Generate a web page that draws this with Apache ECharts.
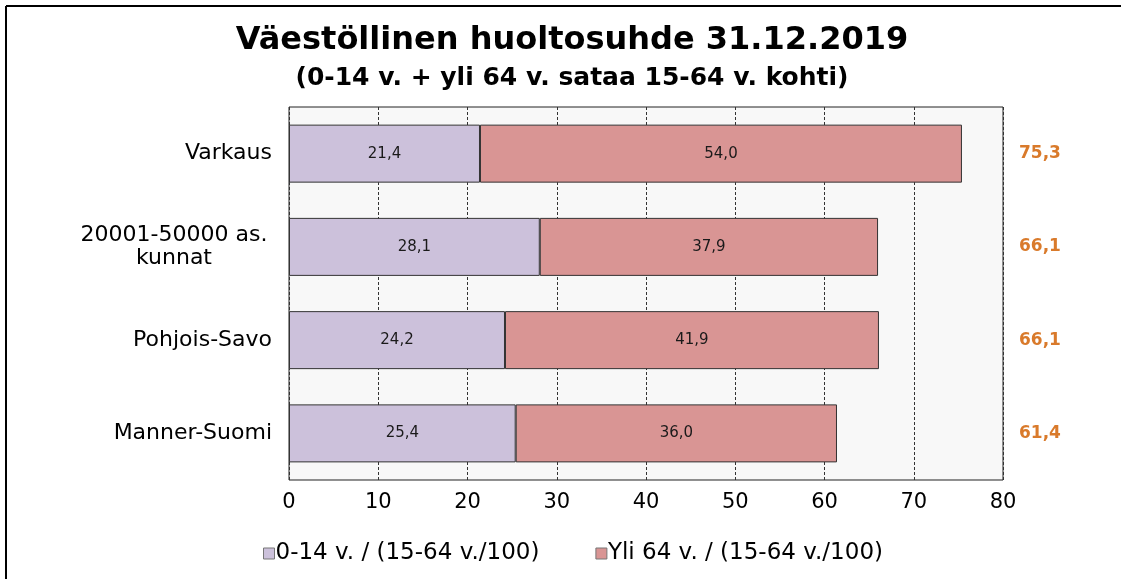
<!DOCTYPE html>
<html>
<head>
<meta charset="utf-8">
<script src="https://cdn.jsdelivr.net/npm/echarts@6/dist/echarts.min.js"></script>
<style>
  html, body { margin: 0; padding: 0; background: #fff; }
  #chart { width: 1121px; height: 579px; }
</style>
</head>
<body>
<div id="chart"></div>
<script>
// data
const categories = ['Varkaus', '20001-50000 as.\nkunnat', 'Pohjois-Savo', 'Manner-Suomi']
const youngRatio = [21.4, 28.1, 24.2, 25.4]
const oldRatio = [54.0, 37.9, 41.9, 36.0]
const totals = [75.3, 66.1, 66.1, 61.4]
const xTicks = [0, 10, 20, 30, 40, 50, 60, 70, 80]

const seriesNames = ['0-14 v. / (15-64 v./100)', 'Yli 64 v. / (15-64 v./100)']
const fmt = v => v.toFixed(1).replace('.', ',')
const font = 'DejaVu Sans, Liberation Sans, Arial, sans-serif'

const chart = echarts.init(document.getElementById('chart'))

const barLabel = {
  show: true,
  position: 'inside',
  color: '#1a1a1a',
  fontSize: 15,
  fontFamily: font,
  formatter: p => fmt(p.value)
}

chart.setOption({
  animation: false,
  textStyle: { fontFamily: font },
  title: [
    {
      text: 'Väestöllinen huoltosuhde 31.12.2019',
      left: 567, top: 20, textAlign: 'center',
      textStyle: { fontSize: 32, fontWeight: 'bold', color: '#000', fontFamily: font }
    },
    {
      text: '(0-14 v. + yli 64 v. sataa 15-64 v. kohti)',
      left: 567, top: 61, textAlign: 'center',
      textStyle: { fontSize: 25, fontWeight: 'bold', color: '#000', fontFamily: font }
    }
  ],
  graphic: [
    { type: 'line', shape: { x1: 6, y1: 6, x2: 1121, y2: 6 }, style: { stroke: '#000', lineWidth: 2 } },
    { type: 'line', shape: { x1: 6, y1: 6, x2: 6, y2: 579 }, style: { stroke: '#000', lineWidth: 2 } }
  ],
  legend: {
    data: seriesNames,
    left: 258, top: 537,
    itemWidth: 11, itemHeight: 11, itemGap: 56,
    icon: 'rect',
    textStyle: { fontSize: 23, color: '#000', padding: [0, 0, 0, -4] },
    itemStyle: { borderColor: '#777', borderWidth: 1 }
  },
  grid: {
    left: 289, right: 118, top: 107, bottom: 99,
    show: true,
    backgroundColor: '#f8f8f8',
    borderColor: '#222',
    borderWidth: 1
  },
  xAxis: {
    type: 'value',
    min: 0, max: 80, interval: 10,
    axisLine: { show: false },
    axisTick: { show: false },
    axisLabel: {
      color: '#000', fontSize: 21, margin: 12,
      formatter: v => xTicks.includes(v) ? String(v) : ''
    },
    splitLine: { show: true, lineStyle: { color: '#333', type: [3, 2], width: 1 } }
  },
  yAxis: [
    {
      type: 'category',
      data: categories,
      inverse: true,
      axisLine: { show: false },
      axisTick: { show: false },
      axisLabel: {
        color: '#000', fontSize: 22, margin: 17, lineHeight: 23,
        formatter: v => v.includes('\n') ? '{c|' + v + '}' : v,
        rich: { c: { fontSize: 22, lineHeight: 23, align: 'center', width: 196 } }
      }
    },
    {
      type: 'category',
      data: totals.map(fmt),
      inverse: true,
      position: 'right',
      axisLine: { show: false },
      axisTick: { show: false },
      axisLabel: {
        color: '#d97a2b', fontSize: 17, fontWeight: 'bold', margin: 16, align: 'left'
      }
    }
  ],
  series: [
    {
      name: seriesNames[0],
      type: 'bar',
      stack: 'total',
      barWidth: 58,
      data: youngRatio,
      itemStyle: { color: '#ccc1db', borderColor: '#333', borderWidth: 1 },
      label: barLabel
    },
    {
      name: seriesNames[1],
      type: 'bar',
      stack: 'total',
      barWidth: 58,
      data: oldRatio,
      itemStyle: { color: '#d99594', borderColor: '#333', borderWidth: 1 },
      label: barLabel
    }
  ]
})
</script>
</body>
</html>
